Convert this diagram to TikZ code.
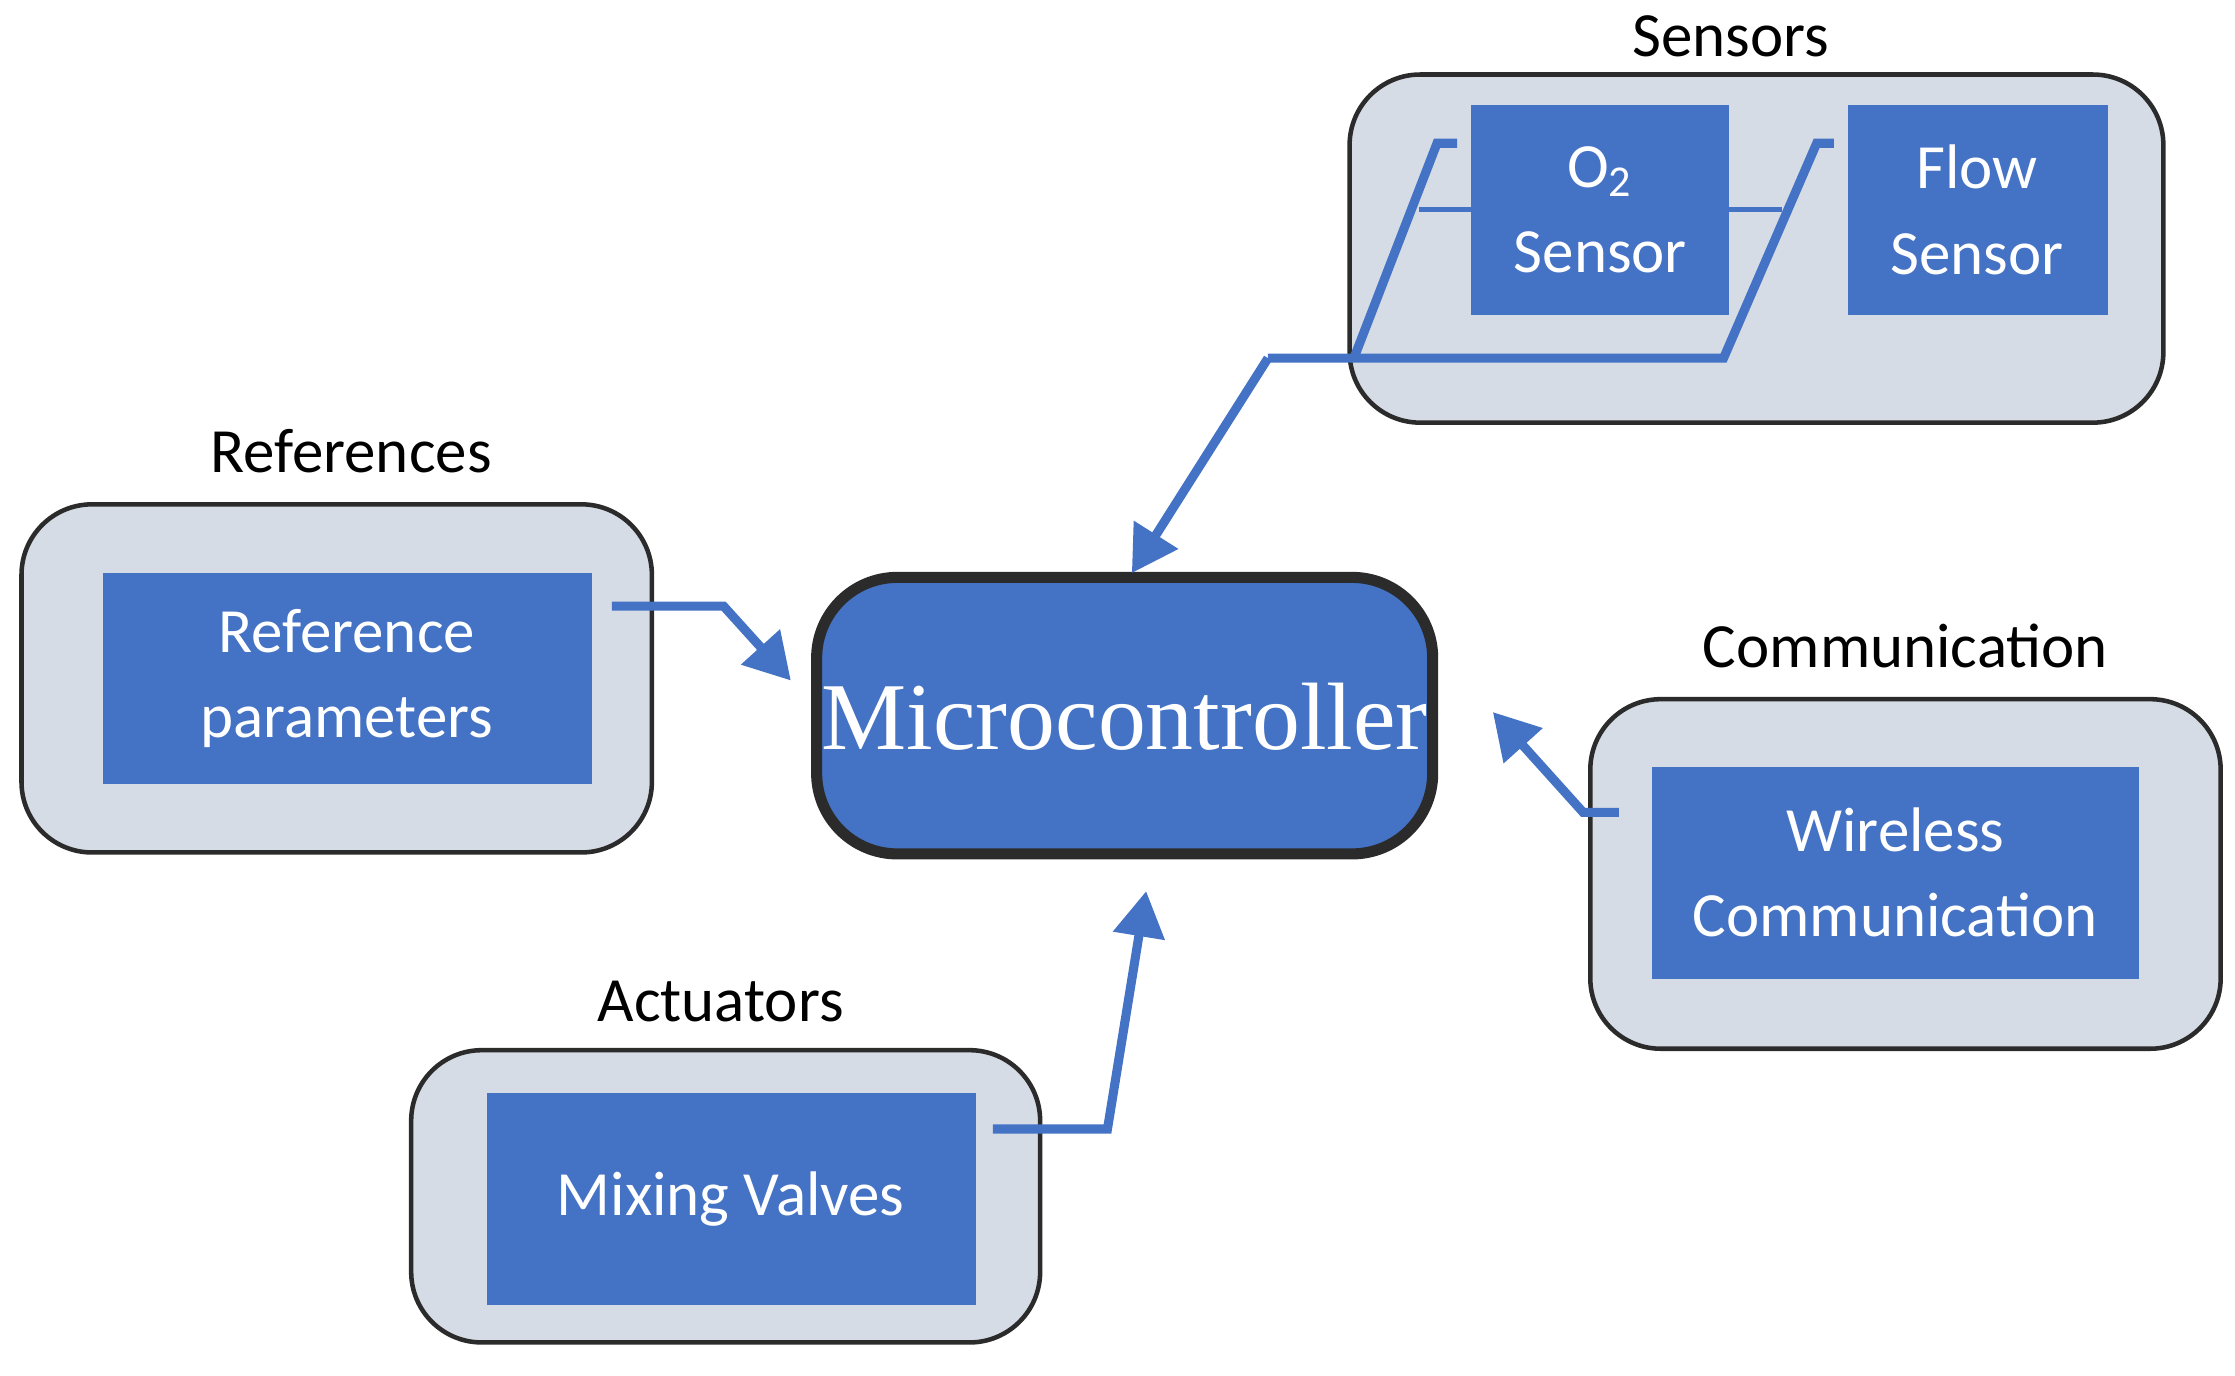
\documentclass[tikz,border=0pt]{standalone}
\usepackage{fontspec}
\setmainfont{Carlito}
\newfontfamily\mcfont{Liberation Serif}
\usetikzlibrary{arrows.meta}
\definecolor{boxblue}{HTML}{4472C4}
\definecolor{grpfill}{HTML}{D6DCE5}
\definecolor{edge}{HTML}{2B2B2B}
\tikzset{
 grp/.style={draw=edge,line width=0.9pt,fill=grpfill,rounded corners=14pt},
 blk/.style={fill=boxblue,text=white,align=center,font=\fontsize{12.5}{17}\selectfont},
 lbl/.style={font=\fontsize{12.5}{15}\selectfont},
 conn/.style={draw=boxblue,line width=1.8pt},
 arr/.style={conn,-{Triangle[length=9pt,width=10pt]}}
}
\begin{document}
\begin{tikzpicture}[x=0.01cm,y=-0.01cm]
\useasboundingbox (0,0) rectangle (1560,960);
% groups
\draw[grp] (942,52) rectangle (1510,295);
\node[lbl] (lsens) at (1208,25) {Sensors};
\draw[grp] (15,352) rectangle (455,595);
\node[lbl] (lref) at (245,315) {References};
\draw[grp] (1110,488) rectangle (1550,732);
\node[lbl] (lcom) at (1330,451) {Communication};
\draw[grp] (287,733) rectangle (726,937);
\node[lbl] (lact) at (503,699) {Actuators};
% blocks
\node[blk,minimum width=180\pgflinewidth,inner sep=0] (o2) at (1117,146.5) {};
\fill[boxblue] (1027,73) rectangle (1207,220);
\node[blk] at (1117,146.5) {O\textsubscript{2}\\Sensor};
\fill[boxblue] (1290,73) rectangle (1471,220);
\node[blk] (flow) at (1380,146.5) {Flow\\Sensor};
\fill[boxblue] (72,400) rectangle (413,547);
\node[blk] (ref) at (242,473.5) {Reference\\parameters};
\fill[boxblue] (1153,535) rectangle (1493,683);
\node[blk] (wc) at (1323,609) {Wireless\\Communication};
\fill[boxblue] (340,763) rectangle (681,911);
\node[blk] (mv) at (510,837) {Mixing Valves};
% microcontroller
\draw[draw=edge,line width=2.2pt,fill=boxblue,rounded corners=16pt] (570,403) rectangle (1000,596);
\node[text=white,font=\mcfont\fontsize{19}{22}\selectfont] (mc) at (785,500) {Microcontroller};
% connectors
\coordinate (s1) at (1017,100); \coordinate (s2) at (1003,100); \coordinate (s3) at (945,250);
\coordinate (f1) at (1280,100); \coordinate (f2) at (1268,100); \coordinate (f3) at (1203,250);
\coordinate (j) at (885,250); \coordinate (mtop) at (790,400);
\draw[conn] (s1) -- (s2) -- (s3);
\draw[conn] (f1) -- (f2) -- (f3) -- (j);
\draw[arr] (j) -- (mtop);
\coordinate (r1) at (427,423); \coordinate (r2) at (505,423); \coordinate (r3) at (552,475);
\draw[arr] (r1) -- (r2) -- (r3);
\coordinate (c1) at (1130,567); \coordinate (c2) at (1105,567); \coordinate (c3) at (1042,497);
\draw[arr] (c1) -- (c2) -- (c3);
\coordinate (a1) at (693,788); \coordinate (a2) at (773,788); \coordinate (a3) at (800,622);
\draw[arr] (a1) -- (a2) -- (a3);
\end{tikzpicture}
\end{document}
